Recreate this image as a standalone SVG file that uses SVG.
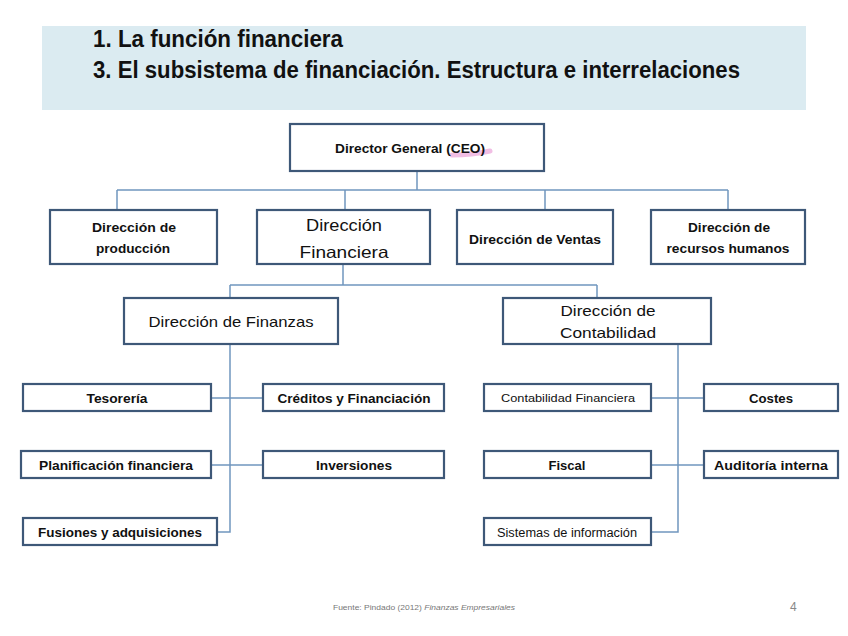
<svg xmlns="http://www.w3.org/2000/svg" width="848" height="636" viewBox="0 0 848 636">
<style>
.box{fill:#fff;stroke:#3E5878;stroke-width:2.2}
.ln{fill:none;stroke:#7096BE;stroke-width:1.5}
text{font-family:"Liberation Sans",Arial,sans-serif;fill:#111}
.b{font-weight:bold}
.t{font-size:23px;font-weight:bold;fill:#111}
.s13{font-size:13px}
.s12{font-size:12px}
.s11{font-size:11px}
.s16{font-size:16.5px}
.s15{font-size:15px}
</style>
<rect x="0" y="0" width="848" height="636" fill="#fff"/>
<rect x="42" y="26" width="764" height="84" fill="#DBEBF1"/>
<text class="t" x="93" y="47" textLength="250" lengthAdjust="spacingAndGlyphs">1. La función financiera</text>
<text class="t" x="93" y="78" textLength="647" lengthAdjust="spacingAndGlyphs">3. El subsistema de financiación. Estructura e interrelaciones</text>

<g id="connectors">
<path class="ln" d="M417 171V190M117 190H728M117 190V210M345 190V210M545 190V210M728 190V210"/>
<path class="ln" d="M343 264V285M230 285H597M230 285V298M597 285V298"/>
<path class="ln" d="M230 344V532H217M211 398H263M211 465H263"/>
<path class="ln" d="M678 344V532H651M651 398H704M651 465H704"/>
</g>

<g id="ceo"><rect class="box" x="290" y="124" width="254" height="47"/>
<path d="M452 155 Q472 155 490 151" stroke="#EBA3D9" stroke-width="5" fill="none" opacity="0.7" stroke-linecap="round"/>
<text class="b s13" x="410" y="153" text-anchor="middle" textLength="150" lengthAdjust="spacingAndGlyphs">Director General (CEO)</text></g>

<g id="produccion"><rect class="box" x="50" y="210" width="167" height="54"/>
<text class="b s13" x="134" y="232" text-anchor="middle" textLength="84" lengthAdjust="spacingAndGlyphs">Dirección de</text>
<text class="b s13" x="133" y="253" text-anchor="middle" textLength="74" lengthAdjust="spacingAndGlyphs">producción</text></g>

<g id="financiera"><rect class="box" x="257" y="210" width="173" height="54"/>
<text class="s16" x="344" y="231" text-anchor="middle" textLength="76" lengthAdjust="spacingAndGlyphs">Dirección</text>
<text class="s16" x="344" y="258" text-anchor="middle" textLength="89" lengthAdjust="spacingAndGlyphs">Financiera</text></g>

<g id="ventas"><rect class="box" x="457" y="210" width="156" height="54"/>
<text class="b s13" x="535" y="244" text-anchor="middle" textLength="132" lengthAdjust="spacingAndGlyphs">Dirección de Ventas</text></g>

<g id="rrhh"><rect class="box" x="651" y="210" width="154" height="54"/>
<text class="b s13" x="729" y="232" text-anchor="middle" textLength="82" lengthAdjust="spacingAndGlyphs">Dirección de</text>
<text class="b s13" x="728" y="253" text-anchor="middle" textLength="123" lengthAdjust="spacingAndGlyphs">recursos humanos</text></g>

<g id="finanzas"><rect class="box" x="124" y="298" width="214" height="46"/>
<text class="s15" x="231" y="327" text-anchor="middle" textLength="165" lengthAdjust="spacingAndGlyphs">Dirección de Finanzas</text></g>

<g id="contabilidad"><rect class="box" x="503" y="298" width="208" height="46"/>
<text class="s15" x="608" y="316" text-anchor="middle" textLength="95" lengthAdjust="spacingAndGlyphs">Dirección de</text>
<text class="s15" x="608" y="338" text-anchor="middle" textLength="96" lengthAdjust="spacingAndGlyphs">Contabilidad</text></g>

<g id="tesoreria"><rect class="box" x="23" y="384" width="188" height="27"/>
<text class="b s13" x="117" y="403" text-anchor="middle" textLength="61" lengthAdjust="spacingAndGlyphs">Tesorería</text></g>
<g id="creditos"><rect class="box" x="263" y="384" width="181" height="27"/>
<text class="b s13" x="354" y="403" text-anchor="middle" textLength="153" lengthAdjust="spacingAndGlyphs">Créditos y Financiación</text></g>
<g id="planificacion"><rect class="box" x="21" y="451" width="190" height="27"/>
<text class="b s13" x="116" y="470" text-anchor="middle" textLength="154" lengthAdjust="spacingAndGlyphs">Planificación financiera</text></g>
<g id="inversiones"><rect class="box" x="263" y="451" width="181" height="27"/>
<text class="b s13" x="354" y="470" text-anchor="middle" textLength="76" lengthAdjust="spacingAndGlyphs">Inversiones</text></g>
<g id="fusiones"><rect class="box" x="23" y="518" width="194" height="27"/>
<text class="b s13" x="120" y="537" text-anchor="middle" textLength="164" lengthAdjust="spacingAndGlyphs">Fusiones y adquisiciones</text></g>

<g id="contfin"><rect class="box" x="484" y="384" width="167" height="27"/>
<text class="s11" x="568" y="402" text-anchor="middle" textLength="134" lengthAdjust="spacingAndGlyphs">Contabilidad Financiera</text></g>
<g id="costes"><rect class="box" x="704" y="384" width="134" height="27"/>
<text class="b s13" x="771" y="403" text-anchor="middle" textLength="44" lengthAdjust="spacingAndGlyphs">Costes</text></g>
<g id="fiscal"><rect class="box" x="484" y="451" width="167" height="27"/>
<text class="b s13" x="567" y="470" text-anchor="middle" textLength="37" lengthAdjust="spacingAndGlyphs">Fiscal</text></g>
<g id="auditoria"><rect class="box" x="704" y="451" width="134" height="27"/>
<text class="b s13" x="771" y="470" text-anchor="middle" textLength="114" lengthAdjust="spacingAndGlyphs">Auditoría interna</text></g>
<g id="sistemas"><rect class="box" x="484" y="518" width="167" height="27"/>
<text class="s12" x="567" y="537" text-anchor="middle" textLength="140" lengthAdjust="spacingAndGlyphs">Sistemas de información</text></g>

<text x="333" y="610" style="font-size:7.5px;fill:#777" textLength="182" lengthAdjust="spacingAndGlyphs">Fuente: Pindado (2012)  <tspan font-style="italic">Finanzas Empresariales</tspan></text>
<text x="790" y="611" style="font-size:12px;fill:#888">4</text>
</svg>
